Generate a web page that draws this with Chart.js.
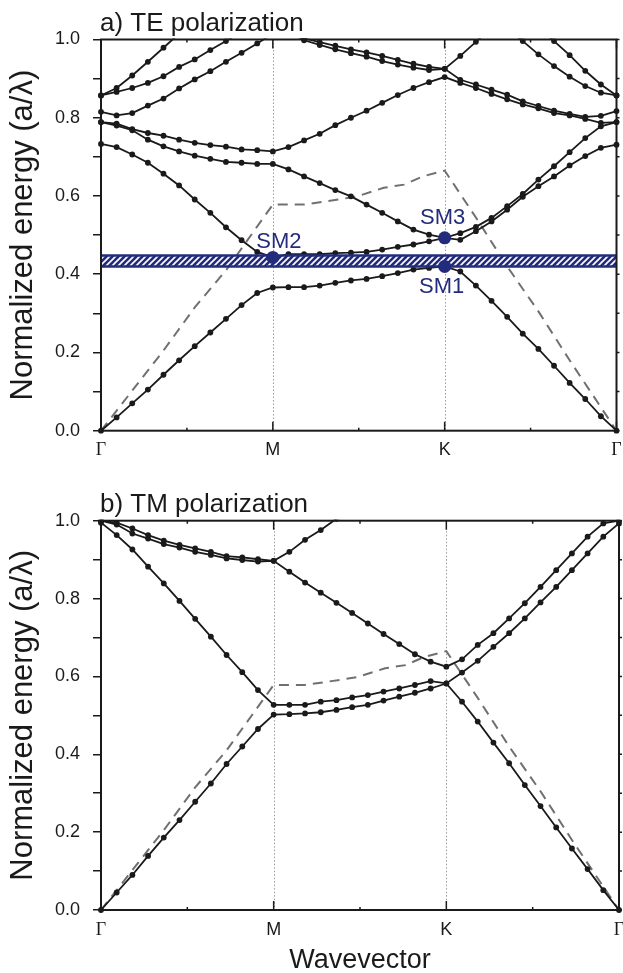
<!DOCTYPE html>
<html>
<head>
<meta charset="utf-8">
<title>Photonic band structure</title>
<script src="https://cdn.jsdelivr.net/npm/chart.js@4.4.1/dist/chart.umd.min.js"></script>
<style>
  body { margin: 0; background: #fff; }
  canvas { position: absolute; left: 0; }
  #teChart { top: 0; }
  #tmChart { top: 473px; }
</style>
</head>
<body>
<canvas id="teChart" width="623" height="473"></canvas>
<canvas id="tmChart" width="623" height="500"></canvas>
<script>
// k-path sampled with 11 steps per segment: Γ(0) – M(11) – K(22) – Γ(33)
const kPathIndex = [0, 11, 22, 33];
const kPathLabels = ['Γ', 'M', 'K', 'Γ'];
const energyTicks = [0, 0.2, 0.4, 0.6, 0.8, 1.0];

// light line (dashed), same for both polarizations
const lightLineK = [0, 4, 6, 8, 11, 13, 15.2, 16.4, 18.1, 19.4, 20.6, 22, 24, 26, 28, 30, 33];
const lightLineE = [0, 0.205, 0.315, 0.41, 0.578, 0.578, 0.591, 0.599, 0.621, 0.629, 0.650, 0.665, 0.545, 0.42, 0.305, 0.18, 0];

// TE bands, one value per k-point (null = out of frame)
const teBand1 = [0, 0.034, 0.070, 0.105, 0.143, 0.180, 0.216, 0.251, 0.286, 0.321, 0.352, 0.366,
  0.367, 0.367, 0.371, 0.378, 0.384, 0.388, 0.395, 0.403, 0.412, 0.416, 0.420,
  0.407, 0.371, 0.332, 0.291, 0.248, 0.209, 0.166, 0.122, 0.081, 0.037, 0];
const teBand2 = [0.733, 0.725, 0.706, 0.685, 0.657, 0.627, 0.591, 0.557, 0.520, 0.487, 0.457, 0.443,
  0.451, 0.451, 0.451, 0.454, 0.455, 0.457, 0.463, 0.470, 0.476, 0.484, 0.493,
  0.488, 0.510, 0.535, 0.565, 0.598, 0.625, 0.650, 0.678, 0.702, 0.723, 0.731];
const teBand3 = [0.789, 0.780, 0.768, 0.744, 0.727, 0.714, 0.703, 0.695, 0.687, 0.685, 0.682, 0.682,
  0.668, 0.650, 0.633, 0.615, 0.599, 0.578, 0.557, 0.535, 0.514, 0.501, 0.493,
  0.505, 0.521, 0.544, 0.574, 0.605, 0.642, 0.676, 0.712, 0.748, 0.778, 0.789];
const teBand4 = [0.789, 0.785, 0.771, 0.761, 0.754, 0.744, 0.736, 0.730, 0.726, 0.719, 0.717, 0.714,
  0.725, 0.742, 0.759, 0.781, 0.800, 0.818, 0.838, 0.858, 0.876, 0.891, 0.904,
  0.889, 0.876, 0.861, 0.847, 0.834, 0.824, 0.812, 0.806, 0.797, 0.787, 0.789];
const teBand5 = [0.815, 0.806, 0.812, 0.831, 0.849, 0.875, 0.898, 0.919, 0.943, 0.966, 0.990, 1.015,
  1.012, 1.003, 0.993, 0.984, 0.975, 0.967, 0.958, 0.948, 0.938, 0.930, 0.925,
  0.897, 0.885, 0.872, 0.859, 0.842, 0.830, 0.818, 0.810, 0.802, 0.805, 0.817];
const teBand6 = [0.857, 0.876, 0.908, 0.943, 0.979, 1.015, null, null, null, null, null, null,
  1.02, 0.998, 0.986, 0.975, 0.965, 0.956, 0.945, 0.936, 0.928, 0.922, 0.925,
  0.958, 0.994, 1.03, null, null, null, null, null, null, null, null];
const teBand7 = [0.857, 0.866, 0.876, 0.889, 0.906, 0.930, 0.949, 0.973, 0.996, 1.02, null, null,
  null, null, null, null, null, null, null, null, null, null, null,
  null, null, null, 1.03, 0.996, 0.962, 0.932, 0.905, 0.881, 0.864, 0.857];
const teBand8 = [null, null, null, null, null, null, null, null, null, null, null, null,
  null, null, null, null, null, null, null, null, null, null, null,
  null, null, null, null, null, 1.03, 0.996, 0.960, 0.920, 0.885, 0.857];

// TE gap and the three special modes
const teGap = [0.420, 0.448];
const smLabels = ['SM1', 'SM2', 'SM3'];
const smK = [22, 11, 22];
const smE = [0.420, 0.443, 0.493];

// TM bands
const tmBand1 = [0, 0.045, 0.090, 0.139, 0.186, 0.231, 0.278, 0.325, 0.375, 0.420, 0.465, 0.502,
  0.503, 0.505, 0.508, 0.514, 0.521, 0.527, 0.538, 0.548, 0.558, 0.569, 0.582,
  0.535, 0.484, 0.430, 0.377, 0.321, 0.267, 0.212, 0.158, 0.105, 0.051, 0];
const tmBand2 = [0.995, 0.963, 0.926, 0.882, 0.839, 0.794, 0.748, 0.702, 0.655, 0.611, 0.565, 0.527,
  0.527, 0.527, 0.535, 0.539, 0.546, 0.552, 0.561, 0.569, 0.578, 0.588, 0.582,
  0.610, 0.640, 0.676, 0.711, 0.749, 0.790, 0.830, 0.873, 0.916, 0.959, 0.993];
const tmBand3 = [1.0, 0.990, 0.967, 0.954, 0.940, 0.931, 0.920, 0.912, 0.903, 0.899, 0.895, 0.897,
  0.869, 0.841, 0.815, 0.789, 0.763, 0.736, 0.709, 0.683, 0.657, 0.638, 0.625,
  0.644, 0.681, 0.711, 0.749, 0.788, 0.830, 0.873, 0.916, 0.959, 0.993, 1.0];
const tmBand4 = [1.0, 0.995, 0.980, 0.963, 0.949, 0.938, 0.929, 0.920, 0.909, 0.906, 0.901, 0.897,
  0.920, 0.951, 0.976, 1.005, null, null, null, null, null, null, null,
  null, null, null, null, null, null, null, null, null, null, null];

const SANS = '"Liberation Sans", Arial, Helvetica, sans-serif';
const SERIF = '"Liberation Serif", "Times New Roman", serif';
const INK = '#1a1a1a';
const NAVY = '#232c7c';

/**
 * Turns a list of band energies into {x, y} points along the k-path.
 * @param {(number|null)[]} values - Energy at each k-point.
 */
function toPoints(values) {
  return values.map((v, i) => ({ x: i, y: v }));
}

/**
 * Dataset for one photonic band: black line with dots at every k-point.
 */
function bandDataset(values) {
  return {
    data: toPoints(values),
    borderColor: INK,
    borderWidth: 1.8,
    pointRadius: 2.9,
    pointBackgroundColor: INK,
    pointBorderWidth: 0,
    spanGaps: false,
    clip: { left: 5, top: 1, right: 5, bottom: 5 },
    order: 2
  };
}

function lightLineDataset() {
  return {
    data: lightLineK.map((k, i) => ({ x: k, y: lightLineE[i] })),
    borderColor: '#707070',
    borderWidth: 2,
    borderDash: [10, 7],
    pointRadius: 0,
    order: 3
  };
}

/**
 * White-on-navy diagonal hatch used for the band gap strip.
 */
function makeHatch(ctx) {
  const tile = document.createElement('canvas');
  tile.width = 6;
  tile.height = 6;
  const g = tile.getContext('2d');
  g.fillStyle = NAVY;
  g.fillRect(0, 0, 6, 6);
  g.strokeStyle = '#fff';
  g.lineWidth = 1.6;
  g.beginPath();
  g.moveTo(0, 6); g.lineTo(6, 0);
  g.moveTo(-1, 1); g.lineTo(1, -1);
  g.moveTo(5, 7); g.lineTo(7, 5);
  g.stroke();
  return ctx.createPattern(tile, 'repeat');
}

function gapDatasets(ctx, gap) {
  const edge = y => [{ x: 0, y }, { x: 33, y }];
  const common = { borderColor: NAVY, borderWidth: 2.5, pointRadius: 0, order: 1 };
  return [
    { ...common, data: edge(gap[0]), fill: false },
    { ...common, data: edge(gap[1]), fill: '-1', backgroundColor: makeHatch(ctx) }
  ];
}

function smDataset() {
  return {
    data: smK.map((k, i) => ({ x: k, y: smE[i] })),
    showLine: false,
    pointRadius: 6.5,
    pointBackgroundColor: NAVY,
    pointBorderWidth: 0,
    pointLabels: smLabels,
    labelOffsets: [[-3, 21], [6, -15], [-2, -20]],
    order: 0
  };
}

// frame, dotted symmetry-point lines, inward ticks and the panel caption
const bandFrame = {
  id: 'bandFrame',
  beforeDatasetsDraw(chart) {
    const { ctx, chartArea: a, scales: { x } } = chart;
    ctx.save();
    ctx.strokeStyle = '#9a9a9a';
    ctx.lineWidth = 1;
    ctx.setLineDash([1.5, 2]);
    kPathIndex.slice(1, -1).forEach(k => {
      const px = Math.round(x.getPixelForValue(k)) + 0.5;
      ctx.beginPath();
      ctx.moveTo(px, a.top);
      ctx.lineTo(px, a.bottom);
      ctx.stroke();
    });
    ctx.restore();
  },
  afterDraw(chart, args, opts) {
    const { ctx, chartArea: a, scales: { x, y } } = chart;
    ctx.save();
    ctx.strokeStyle = INK;
    ctx.lineWidth = 2;
    ctx.strokeRect(a.left, a.top, a.width, a.height);

    ctx.lineWidth = 1.5;
    ctx.beginPath();
    x.ticks.forEach(t => {
      const px = x.getPixelForValue(t.value);
      const len = kPathIndex.includes(t.value) ? 9 : 3;
      ctx.moveTo(px, a.bottom); ctx.lineTo(px, a.bottom - len);
      ctx.moveTo(px, a.top); ctx.lineTo(px, a.top + len);
    });
    y.ticks.forEach(t => {
      const py = y.getPixelForValue(t.value);
      ctx.moveTo(a.right, py); ctx.lineTo(a.right + 3, py);
    });
    ctx.stroke();

    ctx.fillStyle = INK;
    ctx.font = `26px ${SANS}`;
    ctx.textBaseline = 'alphabetic';
    ctx.fillText(opts.caption, a.left - 1, a.top - 9);
    ctx.restore();
  }
};

// text next to the special-mode dots
const modeLabels = {
  id: 'modeLabels',
  afterDatasetsDraw(chart) {
    const { ctx } = chart;
    chart.data.datasets.forEach((ds, di) => {
      if (!ds.pointLabels) return;
      const meta = chart.getDatasetMeta(di);
      ctx.save();
      ctx.fillStyle = NAVY;
      ctx.font = `22px ${SANS}`;
      ctx.textAlign = 'center';
      ctx.textBaseline = 'middle';
      meta.data.forEach((pt, i) => {
        const [dx, dy] = ds.labelOffsets[i];
        ctx.fillText(ds.pointLabels[i], pt.x + dx, pt.y + dy);
      });
      ctx.restore();
    });
  }
};

/**
 * Builds one band-structure panel.
 */
function createBandChart(canvasId, datasets, cfg) {
  const canvas = document.getElementById(canvasId);
  return new Chart(canvas.getContext('2d'), {
    type: 'line',
    data: { datasets },
    options: {
      responsive: false,
      animation: false,
      devicePixelRatio: 1,
      events: [],
      layout: { padding: { top: cfg.padTop, right: 2.3, bottom: 0, left: 0 } },
      plugins: {
        legend: { display: false },
        tooltip: { enabled: false },
        bandFrame: { caption: cfg.caption }
      },
      scales: {
        x: {
          type: 'linear',
          min: 0,
          max: 33,
          afterFit: s => {
            s.height = cfg.xAxisHeight;
            s.paddingLeft = 0;
            s.paddingRight = 0;
          },
          grid: { display: false, drawTicks: false },
          border: { display: false },
          ticks: {
            stepSize: 5.5,
            autoSkip: false,
            maxRotation: 0,
            padding: 9,
            color: INK,
            font: c => ({ family: kPathLabels[kPathIndex.indexOf(c.tick && c.tick.value)] === 'Γ' ? SERIF : SANS, size: 18 }),
            callback: v => {
              const i = kPathIndex.indexOf(v);
              return i >= 0 ? kPathLabels[i] : '';
            }
          },
          title: {
            display: !!cfg.xTitle,
            text: cfg.xTitle || '',
            color: INK,
            font: { family: SANS, size: 27, lineHeight: 1 },
            padding: { top: 0, bottom: -1 }
          }
        },
        y: {
          min: 0,
          max: 1,
          afterFit: s => { s.width = 101; },
          grid: { drawOnChartArea: false, drawTicks: true, tickLength: 8, color: INK, lineWidth: 1.5 },
          border: { display: false },
          ticks: {
            stepSize: 0.1,
            autoSkip: false,
            padding: 13,
            color: INK,
            font: { family: SANS, size: 18 },
            callback: v => {
              const r = Math.round(v * 10) / 10;
              return energyTicks.some(t => Math.abs(t - r) < 1e-6) ? r.toFixed(1) : '';
            }
          },
          title: {
            display: true,
            text: 'Normalized energy (a/λ)',
            color: INK,
            font: { family: SANS, size: 31, lineHeight: 1 },
            padding: { top: 8, bottom: 0 }
          }
        }
      }
    },
    plugins: [bandFrame, modeLabels]
  });
}

function init() {
  const teCtx = document.getElementById('teChart').getContext('2d');
  createBandChart('teChart', [
    lightLineDataset(),
    ...[teBand1, teBand2, teBand3, teBand4, teBand5, teBand6, teBand7, teBand8].map(bandDataset),
    ...gapDatasets(teCtx, teGap),
    smDataset()
  ], { caption: 'a) TE polarization', padTop: 39.5, xAxisHeight: 42.3 });

  createBandChart('tmChart', [
    lightLineDataset(),
    ...[tmBand1, tmBand2, tmBand3, tmBand4].map(bandDataset)
  ], { caption: 'b) TM polarization', padTop: 47.7, xAxisHeight: 63, xTitle: 'Wavevector' });
}

init();
</script>
</body>
</html>
